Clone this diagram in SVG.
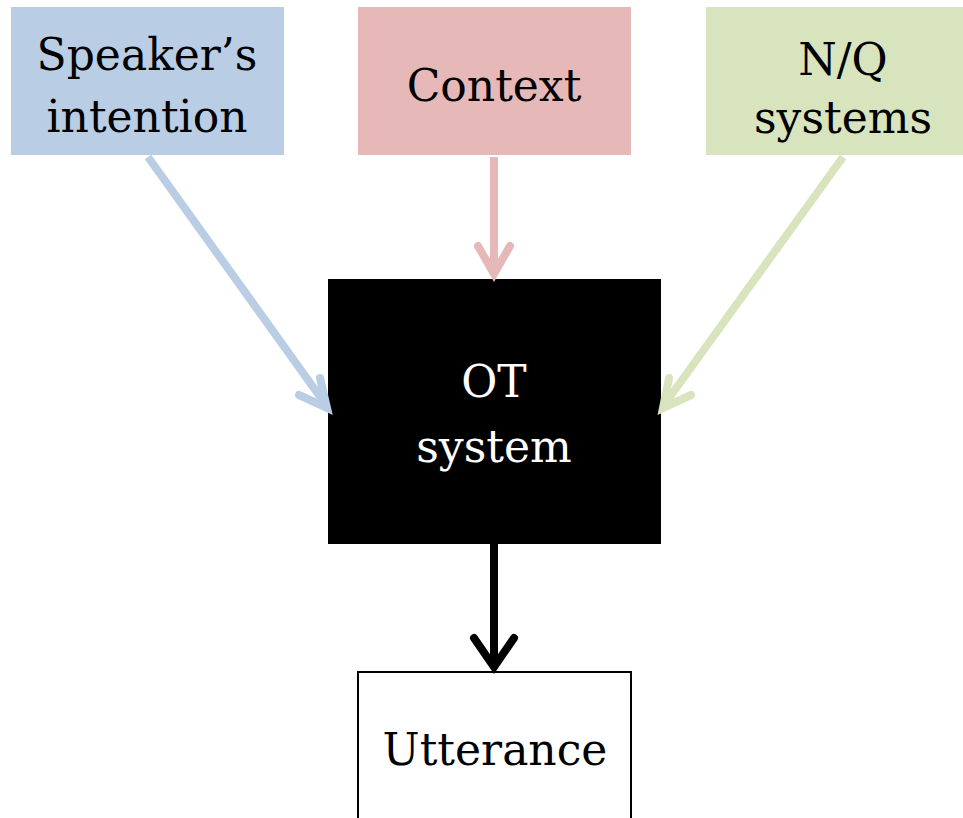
<svg xmlns="http://www.w3.org/2000/svg" width="963" height="818" viewBox="0 0 963 818">
<style>
text{font-family:"DejaVu Serif","Liberation Serif",serif;font-size:44px;text-anchor:middle}
.c{fill:none;stroke-width:8;stroke-linecap:butt}
.h{fill:none;stroke-width:8;stroke-linecap:round;stroke-linejoin:miter}
</style>
<rect width="963" height="818" fill="#fff"/>
<g id="speaker">
<rect x="11" y="7" width="273" height="148" fill="#B9CDE5"/>
<text x="147" y="70">Speaker’s</text>
<text x="147" y="132">intention</text>
</g>
<g id="context">
<rect x="358" y="7" width="273" height="148" fill="#E6B9B8"/>
<text x="494" y="101">Context</text>
</g>
<g id="nq">
<rect x="706" y="7" width="260" height="148" fill="#D7E4BD"/>
<text x="843" y="75">N/Q</text>
<text x="843" y="133">systems</text>
</g>
<g id="ot">
<rect x="328" y="279" width="333" height="265" fill="#000"/>
<text x="494" y="397" fill="#fff">OT</text>
<text x="494" y="462" fill="#fff">system</text>
</g>
<g id="utterance">
<rect x="358" y="672" width="273" height="160" fill="#fff" stroke="#000" stroke-width="2"/>
<text x="495" y="765">Utterance</text>
</g>
<g id="connectors">
<line class="c" x1="148" y1="157" x2="326" y2="405" stroke="#B9CDE5"/>
<polyline class="h" points="320,378 327,408 299,395" stroke="#B9CDE5"/>
<line class="c" x1="494" y1="157" x2="494" y2="274" stroke="#E6B9B8"/>
<polyline class="h" points="478,246 494,274 510,246" stroke="#E6B9B8"/>
<line class="c" x1="843" y1="157" x2="664" y2="405" stroke="#D7E4BD"/>
<polyline class="h" points="669,378 663,408 691,395" stroke="#D7E4BD"/>
<line class="c" x1="494" y1="544" x2="494" y2="667" stroke="#000"/>
<polyline class="h" points="474,638 494,667 514,638" stroke="#000"/>
</g>
</svg>
